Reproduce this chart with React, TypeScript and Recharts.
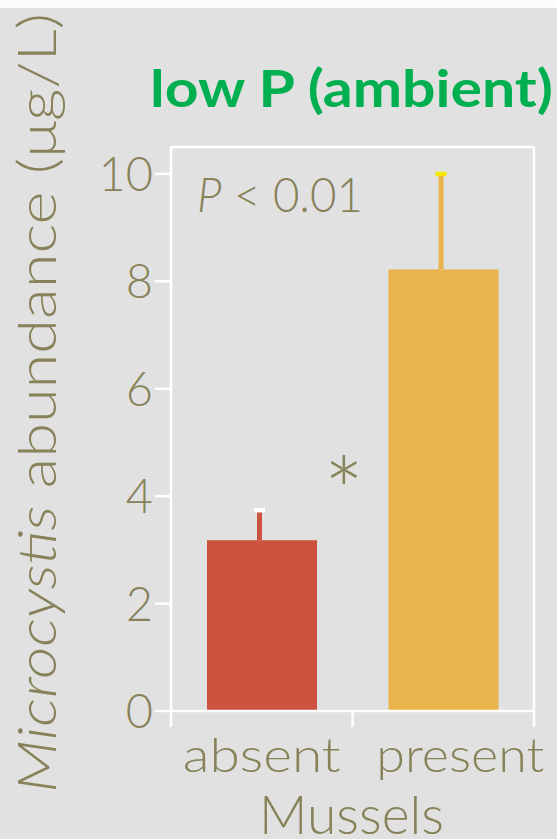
import React from 'react';
import { Bar, BarChart, Cell, Customized, ReferenceLine, XAxis, YAxis } from 'recharts';

// mean Microcystis abundance with the upper standard error, per treatment
const groups = ['absent', 'present'];
const means = [3.18, 8.22];
const upperErrors = [0.6, 1.82];
const yTicks = [0, 2, 4, 6, 8, 10];
const yMax = 10.5;

const data = groups.map((g, i) => ({ group: g, mean: means[i], err: upperErrors[i] }));

const OLIVE = '#878259';
const GREEN = '#00b050';
const BAR_FILLS = ['#cd533e', '#e8b44b'];
const CAP_FILLS = ['#ffffff', '#f6e600'];
const FONT = 'Lato, "Noto Sans", sans-serif';
const LIGHT = 300;
const W = 557;
const H = 839;

// category labels: drawn width and a nudge off the band centre
const LABEL_WIDTHS = [158, 168];
const LABEL_SHIFTS = [0, 17];

// bar with a one-sided (upper) error stem and a small cap on top
function BarWithError(props: any) {
  const { x, y, width, height, payload, index } = props;
  const perUnit = height / payload.mean;
  const top = y - payload.err * perUnit;
  const cx = x + width / 2;
  return (
    <g>
      <rect x={x} y={y} width={width} height={height} fill={BAR_FILLS[index]} />
      <rect x={cx - 5} y={top + 4} width={5} height={y - top - 4} fill={BAR_FILLS[index]} />
      <rect x={cx - 8} y={top} width={11} height={4.5} fill={CAP_FILLS[index]} />
    </g>
  );
}

// ticks sit on the band edges, labels in the band
function GroupTick(props: any) {
  const { x, y, payload, index, visibleTicksCount, width } = props;
  const half = payload.offset || width / (2 * visibleTicksCount);
  const isLast = index === visibleTicksCount - 1;
  return (
    <g>
      <line x1={x - half} x2={x - half} y1={y} y2={y + 16} stroke="#fff" strokeWidth={2.5} />
      {isLast && <line x1={x + half} x2={x + half} y1={y} y2={y + 16} stroke="#fff" strokeWidth={2.5} />}
      <text
        x={x + LABEL_SHIFTS[index]}
        y={y + 61}
        textAnchor="middle"
        fill={OLIVE}
        fontSize={47}
        fontWeight={LIGHT}
        fontFamily={FONT}
        textLength={LABEL_WIDTHS[index]}
        lengthAdjust="spacingAndGlyphs"
      >
        {payload.value}
      </text>
    </g>
  );
}

function ValueTick(props: any) {
  const { x, y, payload } = props;
  return (
    <text x={x} y={y + 17} textAnchor="end" fill={OLIVE} fontSize={47} fontWeight={LIGHT} fontFamily={FONT}>
      {payload.value}
    </text>
  );
}

function YTitle() {
  return (
    <text
      x={56}
      y={403}
      transform="rotate(-90 56 403)"
      textAnchor="middle"
      fill={OLIVE}
      fontSize={53}
      fontWeight={LIGHT}
      fontFamily={FONT}
      textLength={780}
      lengthAdjust="spacingAndGlyphs"
    >
      <tspan fontStyle="italic">Microcystis</tspan>
      <tspan> abundance (μg/L)</tspan>
    </text>
  );
}

function XTitle() {
  return (
    <text
      x={351.5}
      y={834}
      textAnchor="middle"
      fill={OLIVE}
      fontSize={53}
      fontWeight={LIGHT}
      fontFamily={FONT}
      textLength={185}
      lengthAdjust="spacingAndGlyphs"
    >
      Mussels
    </text>
  );
}

function Annotations() {
  return (
    <g fontFamily={FONT}>
      <text
        x={150}
        y={107}
        fill={GREEN}
        fontSize={52}
        fontWeight={700}
        textLength={403}
        lengthAdjust="spacingAndGlyphs"
      >
        low P (ambient)
      </text>
      <text
        x={197}
        y={212}
        fill={OLIVE}
        fontSize={48}
        fontWeight={LIGHT}
        textLength={166}
        lengthAdjust="spacingAndGlyphs"
      >
        <tspan fontStyle="italic">P</tspan>
        <tspan> &lt; 0.01</tspan>
      </text>
      <text x={344} y={527} textAnchor="middle" fill={OLIVE} fontSize={96} fontWeight={LIGHT}>
        *
      </text>
    </g>
  );
}

export default function App() {
  return (
    <div
      style={{
        position: 'absolute',
        left: 0,
        top: 0,
        width: W,
        height: H,
        background: '#e1e1e1',
        overflow: 'hidden',
      }}
    >
      <div style={{ position: 'absolute', left: 0, top: 0, width: W, height: 8, background: '#fbfbfb' }} />
      <BarChart width={W} height={H} data={data} margin={{ top: 147, right: 23, bottom: 0, left: 0 }}>
        <XAxis
          dataKey="group"
          height={128}
          axisLine={{ stroke: '#fff', strokeWidth: 2.5 }}
          tickLine={false}
          tickSize={0}
          tickMargin={0}
          tick={<GroupTick />}
          interval={0}
          label={<XTitle />}
        />
        <YAxis
          width={171}
          domain={[0, yMax]}
          ticks={yTicks}
          interval={0}
          tickSize={16}
          tickMargin={2}
          tickLine={{ stroke: '#fff', strokeWidth: 2.5 }}
          axisLine={{ stroke: '#fff', strokeWidth: 2.5 }}
          tick={<ValueTick />}
          label={<YTitle />}
        />
        {/* top and right edges of the plot frame */}
        <ReferenceLine y={yMax} stroke="#fff" strokeWidth={2.5} />
        <ReferenceLine x="present" position="end" stroke="#fff" strokeWidth={2.5} />
        <Bar dataKey="mean" barSize={110} shape={<BarWithError />} isAnimationActive={false}>
          {data.map((d, i) => (
            <Cell key={d.group} fill={BAR_FILLS[i]} />
          ))}
        </Bar>
        <Customized component={Annotations} />
      </BarChart>
    </div>
  );
}
